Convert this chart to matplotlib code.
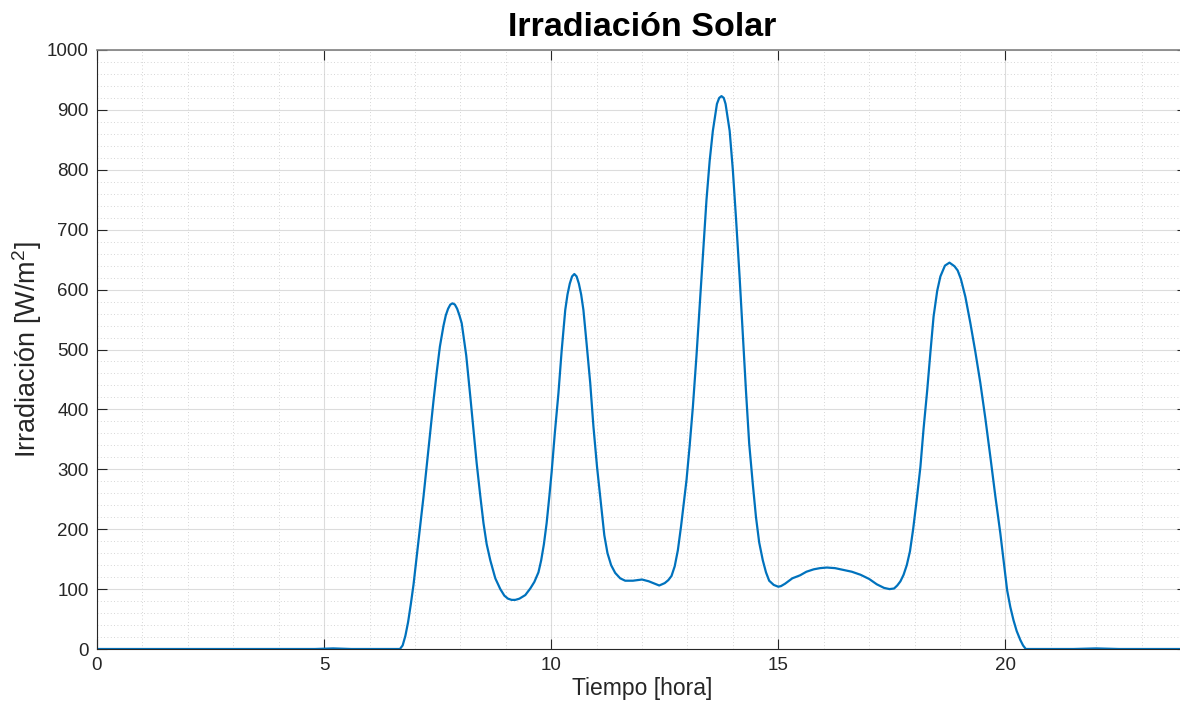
import numpy as np
import matplotlib.pyplot as plt
from matplotlib.ticker import MultipleLocator

# Irradiance readings taken from the reference curve (hour, W/m^2)
hora = [0, 4.8, 5.2, 5.6, 6.67, 6.73, 6.79, 6.85, 6.91, 6.97, 7.03, 7.1,
        7.19, 7.3, 7.41, 7.48, 7.55, 7.63, 7.68, 7.73, 7.78, 7.83, 7.88, 7.93,
        7.98, 8.03, 8.13, 8.22, 8.29, 8.36, 8.44, 8.51, 8.58, 8.66, 8.77, 8.88,
        8.97, 9.05, 9.13, 9.21, 9.3, 9.43, 9.54, 9.63, 9.72, 9.78, 9.84, 9.9,
        9.96, 10.01, 10.08, 10.16, 10.23, 10.31, 10.36, 10.41, 10.46, 10.51,
        10.56, 10.61, 10.66, 10.71, 10.78, 10.86, 10.93, 11.01, 11.1, 11.17,
        11.24, 11.32, 11.41, 11.52, 11.63, 11.8, 12.0, 12.15, 12.38, 12.5,
        12.58, 12.65, 12.72, 12.79, 12.86, 12.93, 12.98, 13.05, 13.12, 13.2,
        13.27, 13.35, 13.42, 13.49, 13.56, 13.65, 13.7, 13.75, 13.8, 13.84,
        13.93, 14.0, 14.07, 14.15, 14.22, 14.29, 14.36, 14.44, 14.51, 14.58,
        14.66, 14.73, 14.8, 14.9, 15.0, 15.06, 15.15, 15.31, 15.48, 15.62,
        15.78, 15.92, 16.07, 16.25, 16.44, 16.62, 16.81, 17.0, 17.17, 17.33,
        17.45, 17.55, 17.62, 17.69, 17.76, 17.83, 17.9, 17.97, 18.05, 18.13,
        18.2, 18.28, 18.35, 18.42, 18.5, 18.57, 18.67, 18.77, 18.88, 18.95,
        19.02, 19.12, 19.23, 19.34, 19.45, 19.56, 19.67, 19.78, 19.89, 19.97,
        20.04, 20.11, 20.18, 20.25, 20.33, 20.39, 20.45, 21.5, 22.0, 22.5, 24]
irradiacion = [0, 0, 1, 0, 0, 6, 22, 45, 75, 108, 148, 195,
               255, 335, 415, 462, 505, 540, 557, 568, 575, 577, 575, 568,
               557, 544, 490, 421, 365, 310, 255, 210, 175, 148, 118, 100,
               89, 84, 82, 82, 84, 90, 101, 112, 128, 148, 175, 210,
               255, 295, 360, 427, 497, 566, 592, 610, 622, 626,
               622, 610, 592, 566, 510, 444, 372, 304, 240, 190,
               160, 140, 127, 118, 114, 114, 116, 113, 106, 110,
               115, 122, 138, 165, 205, 250, 282, 340, 404, 490,
               573, 665, 750, 815, 865, 910, 920, 923, 920, 910,
               865, 800, 719, 620, 525, 430, 343, 275, 220, 178,
               148, 128, 114, 107, 104, 105, 109, 118, 123, 129,
               133, 135, 136, 135, 132, 129, 124, 117, 108, 102,
               100, 101, 106, 113, 124, 140, 163, 200, 250, 304,
               368, 432, 495, 555, 598, 622, 640, 645, 639, 632,
               618, 588, 544, 496, 444, 385, 321, 255, 193, 143,
               98, 70, 48, 30, 15, 6, 0, 0, 1, 0, 0]

plt.rcParams['font.family'] = ['Liberation Sans', 'DejaVu Sans']
plt.rcParams['mathtext.fontset'] = 'custom'
plt.rcParams['mathtext.rm'] = 'Liberation Sans'
plt.rcParams['mathtext.it'] = 'Liberation Sans'

fig = plt.figure(figsize=(11.8, 7.11), dpi=100)
ax = fig.add_axes([97 / 1180, 62 / 711, 1090 / 1180, 599 / 711])

ax.plot(hora, irradiacion, color='#0072BD', linewidth=1.6)

ax.set_xlim(0, 24)
ax.set_ylim(0, 1000)
ax.xaxis.set_major_locator(MultipleLocator(5))
ax.xaxis.set_minor_locator(MultipleLocator(1))
ax.yaxis.set_major_locator(MultipleLocator(100))
ax.yaxis.set_minor_locator(MultipleLocator(20))

ax.grid(which='major', color='#dcdcdc', linewidth=0.8, linestyle='-')
ax.grid(which='minor', color='#c8c8c8', linewidth=0.6, linestyle=(0, (1, 3)))
ax.set_axisbelow(True)

ax.tick_params(which='major', direction='in', length=7, width=0.8,
               top=True, right=True, labelsize=13.5, colors='#262626', pad=6)
ax.tick_params(which='minor', length=0, top=True, right=True)
for side in ['left', 'bottom']:
    ax.spines[side].set_color('#262626')
for side in ['top', 'right']:
    ax.spines[side].set_color('#808080')
    ax.spines[side].set_linewidth(1.2)

ax.set_title('Irradiación Solar', fontsize=24.5, fontweight='bold', pad=10)
ax.set_xlabel('Tiempo [hora]', fontsize=16.5, color='#262626', labelpad=2)
ax.set_ylabel(r'Irradiación [W/m$^2$]', fontsize=19.5, color='#262626', labelpad=2)

fig.savefig('out.png', dpi=100)
